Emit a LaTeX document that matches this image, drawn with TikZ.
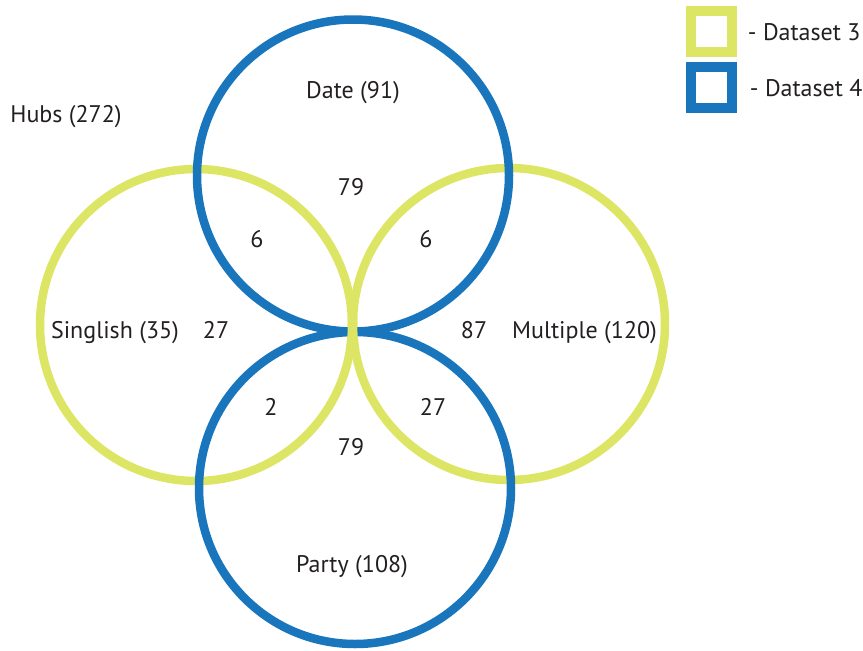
\documentclass[tikz,border=0pt]{standalone}
\usepackage{fontspec}
\setmainfont{PT Sans}
\usetikzlibrary{positioning}
\definecolor{dsyellow}{RGB}{221,229,101}
\definecolor{dsblue}{RGB}{26,118,188}
\definecolor{ink}{RGB}{35,31,32}

\begin{document}
\begin{tikzpicture}[
    x=1pt, y=-1pt,
    set3/.style={draw=dsyellow, line width=8.5pt},
    set4/.style={draw=dsblue, line width=8.5pt},
    key/.style={line width=10pt, minimum size=40.5pt, inner sep=0pt},
    lbl/.style={font=\fontsize{24}{28}\selectfont, inner sep=0pt, text=ink, anchor=base}
]
\useasboundingbox (0,0) rectangle (863,651);

% Centres of the four sets
\coordinate (singlish) at (196,325);
\coordinate (multiple) at (509,324);
\coordinate (date) at (353,175.5);
\coordinate (party) at (355,488);

% Dataset 3 circles
\draw[set3] (singlish) circle[radius=156pt];
\draw[set3] (multiple) circle[radius=156pt];

% Dataset 4 circles
\draw[set4] (date) circle[radius=156pt];
\draw[set4] (party) circle[radius=156pt];

% Yellow lies on top where all four meet
\begin{scope}
  \clip (340,316) rectangle (368,348);
  \draw[set3] (singlish) circle[radius=156pt];
  \draw[set3] (multiple) circle[radius=156pt];
\end{scope}

% Set names
\node[lbl] (hubs) at (66,122) {Hubs (272)};
\node[lbl] (date-name) at (353,98) {Date (91)};
\node[lbl] (singlish-name) at (115,338) {Singlish (35)};
\node[lbl] (multiple-name) at (584.5,338) {Multiple (120)};
\node[lbl] (party-name) at (352,572) {Party (108)};

% Counts
\node[lbl] (date-only) at (351,195) {79};
\node[lbl] (date-singlish) at (257,247) {6};
\node[lbl] (date-multiple) at (426,247) {6};
\node[lbl] (singlish-only) at (216,338) {27};
\node[lbl] (multiple-only) at (474,338) {87};
\node[lbl] (party-singlish) at (271,415) {2};
\node[lbl] (party-multiple) at (433,415) {27};
\node[lbl] (party-only) at (351,455) {79};

% Legend
\node[key, draw=dsyellow] (key3) at (711.5,31.7) {};
\node[key, draw=dsblue] (key4) at (711.5,87.7) {};
\node[lbl, anchor=west, right=11pt of key3] (key3-text) {- Dataset 3};
\node[lbl, anchor=west, right=13pt of key4] (key4-text) {- Dataset 4};

\end{tikzpicture}
\end{document}
